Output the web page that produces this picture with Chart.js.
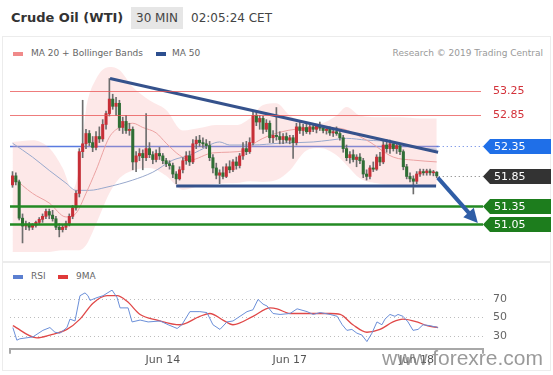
<!DOCTYPE html>
<html>
<head>
<meta charset="utf-8">
<title>Crude Oil (WTI)</title>
<script src="https://cdn.jsdelivr.net/npm/chart.js@4.4.1/dist/chart.umd.min.js"></script>
<style>
  body { margin: 0; background: #fff; font-family: "DejaVu Sans", Verdana, sans-serif; }
  #box { position: relative; width: 553px; height: 375px; overflow: hidden; background: #fff; }
  .abs { position: absolute; white-space: nowrap; }
  .panel { position: absolute; border: 1px solid #ececec; }
  #title { left: 11px; top: 10px; font-size: 13px; font-weight: bold; color: #333; }
  #tf { left: 131px; top: 7px; width: 52px; height: 22px; line-height: 22px; text-align: center; background: #e6e6e6; font-size: 12px; color: #444; }
  #time { left: 191px; top: 7px; line-height: 22px; font-size: 12px; color: #444; }
  .leg { font-size: 9px; color: #666; }
  .sw { position: absolute; width: 10px; height: 4px; }
  #mark { left: 382px; top: 346px; font-family: "Liberation Sans", Arial, sans-serif; font-size: 21px; color: rgba(120,120,120,0.75); }
  canvas { position: absolute; left: 0; }
</style>
</head>
<body>
<div id="box">
  <div class="panel" style="left:2px;top:36px;width:547px;height:224px"></div>
  <div class="panel" style="left:2px;top:262px;width:547px;height:107px"></div>
  <div class="abs" id="title">Crude Oil (WTI)</div>
  <div class="abs" id="tf">30 MIN</div>
  <div class="abs" id="time">02:05:24 CET</div>

  <div class="sw" style="left:13px;top:52px;background:#f08a8a"></div>
  <div class="abs leg" style="left:31px;top:48px">MA 20 + Bollinger Bands</div>
  <div class="sw" style="left:156px;top:52px;background:#2d4f8f"></div>
  <div class="abs leg" style="left:172px;top:48px">MA 50</div>
  <div class="abs leg" style="right:10px;top:48px;color:#999">Research © 2019 Trading Central</div>

  <div class="sw" style="left:13px;top:275px;background:#5b7fd0"></div>
  <div class="abs leg" style="left:31px;top:271px">RSI</div>
  <div class="sw" style="left:58px;top:275px;background:#e03a3a"></div>
  <div class="abs leg" style="left:76px;top:271px">9MA</div>

  <canvas id="price" width="553" height="196" style="top:60px"></canvas>
  <canvas id="rsi" width="553" height="90" style="top:285px"></canvas>
  <div class="abs" id="mark">www.forexre.com</div>
</div>
<script>
// 30 min candles, index 0 = first bar on the left
var opens = [
  51.70,51.85,51.75,51.15,51.02,51.05,51.00,51.03,51.08,51.13,
  51.18,51.26,51.20,51.14,51.00,50.96,51.00,51.06,51.18,51.32,
  51.56,52.25,52.38,52.55,52.40,52.32,52.50,52.46,52.70,52.88,
  53.12,53.00,53.05,52.65,52.75,52.60,52.62,52.08,52.18,52.22,
  52.15,52.30,52.20,52.12,52.22,52.18,52.10,52.05,52.02,51.88,
  51.80,51.95,52.10,52.18,52.08,52.38,52.44,52.40,52.38,52.35,
  52.15,51.98,51.86,51.90,51.84,52.00,51.95,52.08,52.02,52.18,
  52.30,52.25,52.40,52.85,52.74,52.80,52.62,52.72,52.48,52.52,
  52.50,52.45,52.50,52.44,52.48,52.40,52.66,52.60,52.65,52.58,
  52.66,52.62,52.68,52.64,52.60,52.62,52.56,52.58,52.55,52.48,
  52.30,52.15,52.20,52.12,52.16,52.10,51.88,51.84,51.98,51.96,
  52.16,52.08,52.36,52.30,52.38,52.30,52.35,52.25,52.00,51.84,
  51.80,51.76,51.88,51.92,51.90,51.93,51.90,51.91
];
var highs = [
  51.92,51.90,51.78,51.22,51.10,51.08,51.06,51.10,51.16,51.22,
  51.30,51.30,51.28,51.18,51.06,51.04,51.10,51.22,51.36,51.60,
  52.30,53.10,52.62,52.60,52.50,52.58,52.66,52.78,52.92,53.46,
  53.20,53.15,53.10,52.82,52.85,52.72,52.66,52.25,52.30,52.28,
  52.88,52.40,52.25,52.28,52.32,52.22,52.14,52.10,52.06,51.92,
  52.00,52.15,52.25,52.26,52.45,52.50,52.52,52.48,52.45,52.42,
  52.20,52.06,51.95,52.00,52.05,52.10,52.12,52.16,52.22,52.40,
  52.42,52.48,52.90,52.92,52.85,52.84,52.78,52.76,52.60,52.98,
  52.58,52.55,52.56,52.52,52.52,52.72,52.74,52.70,52.72,52.70,
  52.72,52.70,52.74,52.68,52.66,52.66,52.62,52.66,52.60,52.52,
  52.36,52.25,52.28,52.20,52.22,52.14,51.95,52.02,52.08,52.20,
  52.24,52.42,52.45,52.44,52.42,52.40,52.38,52.28,52.04,51.90,
  51.85,51.92,51.96,51.96,51.96,51.96,51.94,51.92
];
var lows = [
  51.66,51.70,51.12,50.74,50.96,50.95,50.96,51.00,51.04,51.08,
  51.14,51.14,51.10,50.96,50.84,50.92,50.96,51.02,51.14,51.28,
  51.50,52.15,52.30,52.35,52.25,52.28,52.40,52.42,52.62,52.84,
  52.95,52.85,52.60,52.55,52.55,52.52,51.95,51.92,52.10,51.95,
  52.10,52.15,52.05,52.08,52.12,52.05,52.00,51.96,51.82,51.72,
  51.78,51.90,52.04,52.02,52.05,52.30,52.34,52.32,52.30,52.10,
  51.90,51.80,51.72,51.80,51.82,51.90,51.92,51.96,51.98,52.12,
  52.20,52.22,52.36,52.68,52.62,52.55,52.58,52.40,52.40,52.44,
  52.38,52.38,52.40,52.38,52.14,52.36,52.55,52.52,52.55,52.54,
  52.58,52.56,52.60,52.56,52.54,52.52,52.50,52.52,52.44,52.24,
  52.10,52.06,52.08,52.00,52.05,51.82,51.78,51.80,51.92,51.94,
  52.02,52.05,52.24,52.22,52.26,52.22,52.20,51.95,51.80,51.75,
  51.55,51.72,51.84,51.86,51.86,51.86,51.85,51.82
];
var closes = [
  51.85,51.75,51.15,51.02,51.05,51.00,51.03,51.08,51.13,51.18,
  51.26,51.20,51.14,51.00,50.96,51.00,51.06,51.18,51.32,51.56,
  52.25,52.38,52.55,52.40,52.32,52.50,52.46,52.70,52.88,53.12,
  53.00,53.05,52.65,52.75,52.60,52.62,52.08,52.18,52.22,52.15,
  52.30,52.20,52.12,52.22,52.18,52.10,52.05,52.02,51.88,51.80,
  51.95,52.10,52.18,52.08,52.38,52.44,52.40,52.38,52.35,52.15,
  51.98,51.86,51.90,51.84,52.00,51.95,52.08,52.02,52.18,52.30,
  52.25,52.40,52.85,52.74,52.80,52.62,52.72,52.48,52.52,52.50,
  52.45,52.50,52.44,52.48,52.40,52.66,52.60,52.65,52.58,52.66,
  52.62,52.68,52.64,52.60,52.62,52.56,52.58,52.55,52.48,52.30,
  52.15,52.20,52.12,52.16,52.10,51.88,51.84,51.98,51.96,52.16,
  52.08,52.36,52.30,52.38,52.30,52.35,52.25,52.00,51.84,51.80,
  51.76,51.88,51.92,51.90,51.93,51.90,51.91,51.85
];

// Bollinger bands (20) sampled at bar indexes
var bandIdx   = [0, 6, 11, 15, 18, 20, 22, 25, 29, 32, 36, 41, 46, 51, 56, 61, 67, 71, 75, 79, 83, 88, 92, 97, 100, 104, 110, 116, 122, 127];
var bandUpper = [52.41,52.44,52.31,51.98,51.62,52.00,52.94,53.45,53.65,53.60,53.32,53.10,52.94,52.60,52.64,52.69,52.69,52.80,53.02,53.05,52.85,52.74,52.72,52.85,52.99,52.85,52.82,52.82,52.80,52.80];
var bandLower = [50.54,50.57,50.59,50.62,50.62,50.62,50.70,51.05,51.56,51.81,51.94,51.98,51.85,51.62,51.68,51.72,51.73,51.76,51.75,51.78,51.94,52.27,52.31,52.19,52.03,51.81,51.72,51.70,51.68,51.68];

var ma20Idx = [0, 6, 11, 16, 19, 22, 25, 29, 32, 36, 39, 43, 46, 50, 53, 60, 70, 73, 80, 90, 97, 106, 114, 120, 127];
var ma20Val = [51.83,51.56,51.40,51.17,51.23,51.56,51.94,52.49,52.65,52.72,52.65,52.56,52.39,52.19,52.11,52.23,52.27,52.41,52.57,52.64,52.64,52.44,52.16,52.11,52.08];
var ma50Idx = [0, 6, 11, 16, 19, 23, 28, 36, 42, 48, 53, 56, 62, 65, 72, 80, 90, 95, 100, 106, 114, 120, 127];
var ma50Val = [52.39,52.16,51.94,51.73,51.61,51.61,51.66,51.78,51.91,52.11,52.19,52.27,52.41,52.36,52.36,52.39,52.41,52.44,52.47,52.44,52.41,52.32,52.29];

// drawn trend lines and forecast arrow, in (bar index, price)
var trendTop = [[29.2, 53.46], [127.4, 52.24]];
var trendBottom = [[49, 51.68], [126.8, 51.68]];
var arrowFrom = [127.3, 51.82];
var arrowTo = [139.3, 51.07];

var levelValues = [53.25, 52.85, 52.35, 51.85, 51.35, 51.05];
var levelKinds  = ['res', 'res', 'pivot', 'last', 'sup', 'sup'];

// RSI panel
var rsiIdx = [0.1,1.3,2.2,6.1,9.1,11.2,12.7,14.2,16.3,17.2,18.7,20.2,21.7,22.6,23.2,25.3,27.1,29.8,31.3,32.2,34.6,35.8,38.2,40.6,44.2,46.6,49.3,50.7,53.1,56.1,58.2,60.0,62.1,64.2,66.0,70.2,72.0,73.5,75.0,76.2,78.0,80.1,83.1,85.2,88.2,90.0,92.1,95.1,97.2,98.7,100.1,101.6,103.1,104.6,106.1,107.6,109.1,110.6,111.5,113.0,114.5,115.4,116.9,118.4,119.9,121.4,122.9,125.0,127.4];
var rsiVal = [39,25.5,27,29,36,39,34,33,39,48,46,73,76,73,68,71,73,79,71,60,60,45,47,45,46,42,38,42,56,56,55,42,37,45,46,56,58,69,64,62,54,53,54,59,56,53,55,53,51,42,36,37,33,31,24,33,45,42,48,53,51,53,51,45,36,37,42,41,39];
var maRsiIdx = [0.1,7.3,11.2,16.3,20.2,24.1,28.3,31.3,34.3,38.2,43.3,50.1,56.1,59.1,63.0,66.0,72.0,77.1,79.2,83.1,89.1,95.1,98.1,101.9,106.1,110.0,113.9,116.9,121.1,124.1,127.4];
var maRsiVal = [41,28,31,37,48,65,73,73,67,53,47,42,51,54,47,42,51,60,59,54,54,54,53,42,34,37,45,48,45,41,39];
var rsiLevels = [70, 50, 30];

var dateTickIdx = [45, 83, 121];
var dateTickLabels = ['Jun 14', 'Jun 17', 'Jun 18'];

var UP = '#c62f37';
var DOWN = '#2f6e34';
var X_MIN = -0.75, X_MAX = 140.85;

function pts(xs, ys) { return xs.map(function (v, i) { return {x: v, y: ys[i]}; }); }
var idx = opens.map(function (_, i) { return i; });
var candleColors = idx.map(function (i) { return closes[i] >= opens[i] ? UP : DOWN; });

function labelBox(ctx, a, py, text, bg) {
  var x0 = a.right, x1 = 551, h = 15;
  ctx.fillStyle = bg;
  ctx.beginPath();
  ctx.moveTo(x0, py);
  ctx.lineTo(x0 + 7, py - h / 2);
  ctx.lineTo(x1, py - h / 2);
  ctx.lineTo(x1, py + h / 2);
  ctx.lineTo(x0 + 7, py + h / 2);
  ctx.closePath();
  ctx.fill();
  ctx.fillStyle = '#fff';
  ctx.font = '11px "DejaVu Sans"';
  ctx.textBaseline = 'middle';
  ctx.fillText(text, x0 + 11, py + 0.5);
}

function hline(ctx, x0, x1, py, color, w, dash) {
  ctx.save();
  ctx.strokeStyle = color;
  ctx.lineWidth = w;
  ctx.setLineDash(dash || []);
  ctx.beginPath();
  ctx.moveTo(x0, py);
  ctx.lineTo(x1, py);
  ctx.stroke();
  ctx.restore();
}

var levelPlugin = {
  id: 'levels',
  beforeDatasetsDraw: function (chart) {
    var ctx = chart.ctx, a = chart.chartArea, x = chart.scales.x, y = chart.scales.y;
    var lastX = x.getPixelForValue(idx.length - 1) + 2;
    levelValues.forEach(function (v, k) {
      var py = Math.round(y.getPixelForValue(v)) + 0.5;
      var kind = levelKinds[k];
      if (kind === 'pivot') {
        hline(ctx, a.left, lastX, py, '#5a7be0', 1.5);
        hline(ctx, lastX, a.right, py, '#5a7be0', 1, [1, 3]);
      }
      if (kind === 'last') hline(ctx, lastX, a.right, py, '#777', 1, [1, 3]);
    });
  },
  afterDatasetsDraw: function (chart) {
    var ctx = chart.ctx, a = chart.chartArea, x = chart.scales.x, y = chart.scales.y;
    ctx.save();
    levelValues.forEach(function (v, k) {
      var py = Math.round(y.getPixelForValue(v)) + 0.5;
      var kind = levelKinds[k];
      var txt = v.toFixed(2);
      if (kind === 'res') {
        hline(ctx, a.left, a.right - 2, py, 'rgba(232,80,80,0.75)', 1);
        ctx.fillStyle = '#d3323a';
        ctx.font = '11px "DejaVu Sans"';
        ctx.textBaseline = 'middle';
        ctx.fillText(txt, a.right + 10, py);
      } else if (kind === 'pivot') {
        labelBox(ctx, a, py, txt, '#1f6fe8');
      } else if (kind === 'last') {
        labelBox(ctx, a, py, txt, '#333333');
      } else {
        hline(ctx, a.left, a.right, py, '#238a23', 2.5);
        labelBox(ctx, a, py, txt, '#1d7d1d');
      }
    });
    // forecast arrow
    var x0 = x.getPixelForValue(arrowFrom[0]), y0 = y.getPixelForValue(arrowFrom[1]);
    var x1 = x.getPixelForValue(arrowTo[0]), y1 = y.getPixelForValue(arrowTo[1]);
    var ang = Math.atan2(y1 - y0, x1 - x0), head = 14;
    ctx.strokeStyle = '#2f5da6';
    ctx.fillStyle = '#2f5da6';
    ctx.lineWidth = 4;
    ctx.beginPath();
    ctx.moveTo(x0, y0);
    ctx.lineTo(x1 - Math.cos(ang) * head * 0.8, y1 - Math.sin(ang) * head * 0.8);
    ctx.stroke();
    ctx.beginPath();
    ctx.moveTo(x1, y1);
    ctx.lineTo(x1 - head * Math.cos(ang) + 7 * Math.sin(ang), y1 - head * Math.sin(ang) - 7 * Math.cos(ang));
    ctx.lineTo(x1 - head * Math.cos(ang) - 7 * Math.sin(ang), y1 - head * Math.sin(ang) + 7 * Math.cos(ang));
    ctx.closePath();
    ctx.fill();
    ctx.restore();
  }
};

var priceChart = new Chart(document.getElementById('price').getContext('2d'), {
  type: 'bar',
  data: {
    datasets: [
      {
        type: 'line', label: 'BB upper', data: pts(bandIdx, bandUpper),
        borderWidth: 0, pointRadius: 0, cubicInterpolationMode: 'monotone',
        backgroundColor: 'rgba(248,170,170,0.27)', fill: '+1', order: 10
      },
      {
        type: 'line', label: 'BB lower', data: pts(bandIdx, bandLower),
        borderWidth: 0, pointRadius: 0, cubicInterpolationMode: 'monotone', fill: false, order: 10
      },
      {
        type: 'line', label: 'MA 20', data: pts(ma20Idx, ma20Val),
        borderColor: '#eba2a2', borderWidth: 1, pointRadius: 0, cubicInterpolationMode: 'monotone', order: 6
      },
      {
        type: 'line', label: 'MA 50', data: pts(ma50Idx, ma50Val),
        borderColor: '#98a8cc', borderWidth: 1, pointRadius: 0, cubicInterpolationMode: 'monotone', order: 6
      },
      {
        label: 'wick', data: idx.map(function (i) { return {x: i, y: [lows[i], highs[i]]}; }),
        backgroundColor: '#6e6e6e', barThickness: 1, grouped: false, order: 4
      },
      {
        label: 'body', data: idx.map(function (i) { return {x: i, y: [opens[i], closes[i]]}; }),
        backgroundColor: candleColors, barThickness: 2.4, minBarLength: 1, grouped: false, order: 3
      },
      {
        type: 'line', label: 'trend', data: trendTop.map(function (p) { return {x: p[0], y: p[1]}; }),
        borderColor: '#35528c', borderWidth: 3, pointRadius: 0, order: 1
      },
      {
        type: 'line', label: 'support', data: trendBottom.map(function (p) { return {x: p[0], y: p[1]}; }),
        borderColor: '#35528c', borderWidth: 3, pointRadius: 0, order: 1
      }
    ]
  },
  options: {
    responsive: false,
    animation: false,
    devicePixelRatio: 1,
    layout: { padding: { left: 10, right: 70, top: 4, bottom: 4 } },
    plugins: { legend: { display: false }, tooltip: { enabled: false } },
    scales: {
      x: { type: 'linear', display: false, min: X_MIN, max: X_MAX, offset: false },
      y: { display: false, min: 50.59, max: 53.70 }
    }
  },
  plugins: [levelPlugin]
});

var rsiPlugin = {
  id: 'rsiGuides',
  beforeDatasetsDraw: function (chart) {
    var ctx = chart.ctx, a = chart.chartArea, y = chart.scales.y;
    ctx.save();
    rsiLevels.forEach(function (v) {
      var py = Math.round(y.getPixelForValue(v)) + 0.5;
      hline(ctx, a.left, a.right, py, '#bdbdbd', 1, [1, 3]);
      ctx.fillStyle = '#666';
      ctx.font = '11px "DejaVu Sans"';
      ctx.textBaseline = 'middle';
      ctx.fillText(String(v), a.right + 10, py);
    });
    ctx.strokeStyle = '#a8a8a8';
    ctx.lineWidth = 2;
    [a.left, a.right].forEach(function (px) {
      ctx.beginPath();
      ctx.moveTo(px, a.bottom);
      ctx.lineTo(px, a.bottom + 5);
      ctx.stroke();
    });
    ctx.restore();
  }
};

var rsiChart = new Chart(document.getElementById('rsi').getContext('2d'), {
  type: 'line',
  data: {
    datasets: [
      { label: 'RSI', data: pts(rsiIdx, rsiVal), borderColor: '#6b8fd8', borderWidth: 1, pointRadius: 0, tension: 0 },
      { label: '9MA', data: pts(maRsiIdx, maRsiVal), borderColor: '#e04848', borderWidth: 1.3, pointRadius: 0, cubicInterpolationMode: 'monotone' }
    ]
  },
  options: {
    responsive: false,
    animation: false,
    devicePixelRatio: 1,
    layout: { padding: { left: 10, right: 70, top: 5, bottom: 3 } },
    plugins: { legend: { display: false }, tooltip: { enabled: false } },
    scales: {
      x: {
        type: 'linear', min: X_MIN, max: X_MAX, offset: false,
        grid: { display: false, drawTicks: false },
        border: { display: true, color: '#a8a8a8', width: 2 },
        afterBuildTicks: function (axis) { axis.ticks = dateTickIdx.map(function (v) { return {value: v}; }); },
        ticks: {
          padding: 5, color: '#555', font: { family: 'DejaVu Sans', size: 11 }, maxRotation: 0, autoSkip: false,
          callback: function (v) { var k = dateTickIdx.indexOf(v); return k >= 0 ? dateTickLabels[k] : ''; }
        }
      },
      y: { display: false, min: 16.3, max: 79.1 }
    }
  },
  plugins: [rsiPlugin]
});
</script>
</body>
</html>
